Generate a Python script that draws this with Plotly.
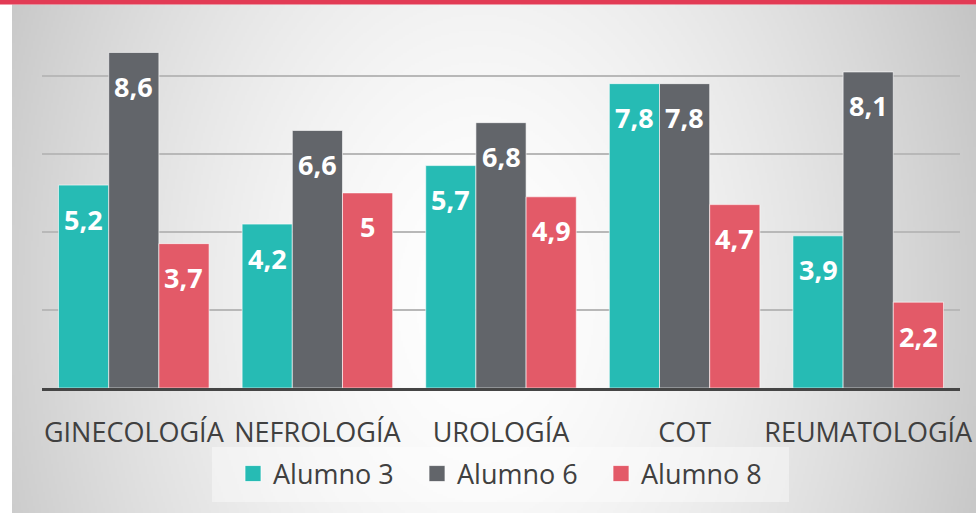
import base64
import struct
import zlib

import numpy as np
import plotly.graph_objects as go

# ---------------- data ----------------
categories = ["GINECOLOGÍA", "NEFROLOGÍA", "UROLOGÍA", "COT", "REUMATOLOGÍA"]
series_names = ["Alumno 3", "Alumno 6", "Alumno 8"]
alumno3 = [5.2, 4.2, 5.7, 7.8, 3.9]
alumno6 = [8.6, 6.6, 6.8, 7.8, 8.1]
alumno8 = [3.7, 5.0, 4.9, 4.7, 2.2]

# ---------------- style ----------------
W, H = 976, 513
ML, MR, MT, MB = 42, 16, 6, 125
PW, PH = W - ML - MR, H - MT - MB
YMAX = 9.79
BARGAP = 0.18
colors = ["#26BBB4", "#62656A", "#E35A68"]
FONT = "Open Sans"
TXT = "#404040"


def px_x(px):
    return (px - ML) / PW


def px_y(py):
    return (H - MB - py) / PH


def fmt(v):
    return ("%g" % v).replace(".", ",")


# background radial gradient (styling only)
def gradient_png(w, h):
    xs = np.linspace(12, 976, w)
    ys = np.linspace(4.5, 513, h)
    X, Y = np.meshgrid(xs, ys)
    d = np.sqrt(((X - 480) / 560) ** 2 + ((Y - 300) / 800) ** 2)
    val = 255 - 62 * np.clip(d, 0, 1.3) ** 1.6
    arr = np.clip(val, 0, 255).astype(np.uint8)
    raw = b"".join(b"\x00" + arr[i].tobytes() for i in range(h))

    def chunk(t, data):
        c = struct.pack(">I", len(data)) + t + data
        return c + struct.pack(">I", zlib.crc32(t + data) & 0xFFFFFFFF)

    png = b"\x89PNG\r\n\x1a\n"
    png += chunk(b"IHDR", struct.pack(">IIBBBBB", w, h, 8, 0, 0, 0, 0))
    png += chunk(b"IDAT", zlib.compress(raw, 9))
    png += chunk(b"IEND", b"")
    return "data:image/png;base64," + base64.b64encode(png).decode()


fig = go.Figure()
all_series = [alumno3, alumno6, alumno8]
for name, vals, col in zip(series_names, all_series, colors):
    fig.add_trace(go.Bar(
        x=categories, y=vals, name=name,
        marker=dict(color=col, line=dict(color="rgba(255,255,255,0.6)", width=1)),
        showlegend=False, hoverinfo="skip",
    ))
    fig.add_trace(go.Scatter(
        x=[None], y=[None], name=name, mode="markers",
        marker=dict(symbol="square", size=16, color=col,
                    line=dict(color="rgba(255,255,255,0.7)", width=1)),
        showlegend=True,
    ))

# data labels
slot = PW / len(categories)
bar_w = slot * (1 - BARGAP) / 3
for i, vals in enumerate(all_series):
    for c, v in zip(categories, vals):
        fig.add_annotation(
            x=c, y=v, xref="x", yref="y", text=fmt(v), showarrow=False,
            xshift=(i - 1) * bar_w, yshift=-34,
            font=dict(family=FONT, size=27, color="white", weight="bold"),
            xanchor="center", yanchor="middle",
        )

fig.update_layout(
    width=W, height=H,
    margin=dict(l=ML, r=MR, t=MT, b=MB, autoexpand=False),
    paper_bgcolor="white", plot_bgcolor="rgba(0,0,0,0)",
    barmode="group", bargap=BARGAP, bargroupgap=0,
    font=dict(family=FONT, color=TXT),
    xaxis=dict(
        showgrid=False, showline=True, linecolor="#454545", linewidth=3,
        tickangle=0, ticks="", ticklabelstandoff=19,
        tickfont=dict(family=FONT, size=27, color=TXT), automargin=False,
    ),
    yaxis=dict(
        range=[0, YMAX], dtick=2, showticklabels=False, zeroline=False,
        showgrid=True, gridcolor="#b8b8b8", gridwidth=1.5, automargin=False,
    ),
    legend=dict(
        orientation="h", x=px_x(509), xanchor="center", y=px_y(474), yanchor="middle",
        font=dict(family=FONT, size=27, color=TXT), bgcolor="rgba(0,0,0,0)",
        entrywidth=139, entrywidthmode="pixels", itemsizing="trace",
    ),
    images=[dict(
        source=gradient_png(482, 255), xref="paper", yref="paper",
        x=px_x(12), y=px_y(4.5), sizex=(976 - 12) / PW, sizey=(513 - 4.5) / PH,
        xanchor="left", yanchor="top", sizing="stretch", layer="below",
    )],
    shapes=[
        dict(type="rect", xref="paper", yref="paper", x0=px_x(0), x1=px_x(W),
             y0=px_y(4.5), y1=px_y(0), fillcolor="#E23B55", line=dict(width=0),
             layer="above"),
        dict(type="rect", xref="paper", yref="paper", x0=px_x(212), x1=px_x(789),
             y0=px_y(502), y1=px_y(447), fillcolor="rgba(255,255,255,0.4)",
             line=dict(width=0), layer="below"),
    ],
)

fig.write_html(
    "out.html",
    config={"displayModeBar": False},
    post_script="document.body.style.margin='0';document.body.style.overflow='hidden';",
)
